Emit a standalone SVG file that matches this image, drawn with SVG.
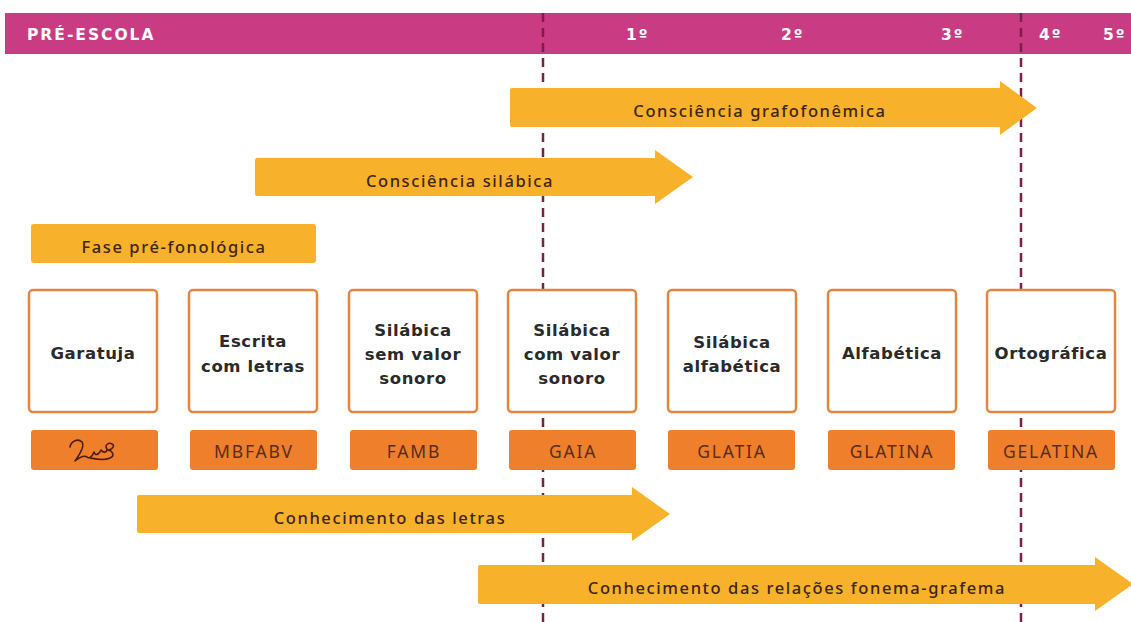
<svg xmlns="http://www.w3.org/2000/svg" width="1131" height="622" viewBox="0 0 1131 622">
<style>
.band{fill:#C93C83}
.yr{font-family:"DejaVu Sans",sans-serif;font-weight:bold;font-size:15.5px;fill:#fff;letter-spacing:2px}
.dash{stroke:#7B2046;stroke-width:2.5;stroke-dasharray:9 6;fill:none}
.arrow{fill:#F8B12A}
.at{font-family:"Noto Sans",sans-serif;font-weight:500;font-size:16.5px;fill:#3E2414;letter-spacing:1.6px;text-anchor:middle}
.box{fill:#fff;stroke:#E9843F;stroke-width:2.5}
.bl{font-family:"DejaVu Sans",sans-serif;font-weight:bold;font-size:16.5px;fill:#2A2A2A;text-anchor:middle;letter-spacing:0.6px}
.bar{fill:#EF7F2B}
.bt{font-family:"Noto Sans",sans-serif;font-size:17.5px;fill:#5A2C17;text-anchor:middle;letter-spacing:1.8px}
</style>
<rect width="1131" height="622" fill="#fff"/>
<g id="header">
<rect class="band" x="5" y="13" width="1126" height="41"/>
<text class="yr" x="27" y="40">PRÉ-ESCOLA</text>
<text class="yr" x="626" y="40">1º</text>
<text class="yr" x="781" y="40">2º</text>
<text class="yr" x="941" y="40">3º</text>
<text class="yr" x="1039" y="40">4º</text>
<text class="yr" x="1103" y="40">5º</text>
</g>
<g id="connectors">
<line class="dash" x1="543" y1="13" x2="543" y2="622"/>
<line class="dash" x1="1021" y1="13" x2="1021" y2="622"/>
</g>
<g id="arrow-grafofonemica">
<path class="arrow" d="M512,88 H1000 V81 L1037,108 L1000,135 V127 H512 Q510,127 510,125 V90 Q510,88 512,88 Z"/>
<text class="at" x="760" y="117">Consciência grafofonêmica</text>
</g>
<g id="arrow-silabica">
<path class="arrow" d="M257,158 H655 V150 L693,177 L655,204 V196 H257 Q255,196 255,194 V160 Q255,158 257,158 Z"/>
<text class="at" x="460" y="187">Consciência silábica</text>
</g>
<g id="fase-pre-fonologica">
<rect class="arrow" x="31" y="224" width="285" height="39" rx="3"/>
<text class="at" x="174" y="253">Fase pré-fonológica</text>
</g>
<g id="garatuja">
<rect class="box" x="29" y="290" width="128" height="122" rx="4"/>
<text class="bl" x="93" y="359">Garatuja</text>
<rect class="bar" x="31" y="430" width="127" height="40" rx="3"/>
<path d="M70,447 C71,441 78,438 82,442 C85,446 80,454 75,461 C80,457 84,455 87,457 C89,459 92,457 94,452 C95,456 99,455 101,450 C103,453 107,453 107,449 C104,445 109,442 112,444 C116,446 111,450 108,450 C113,451 115,456 110,458 C104,461 96,459 90,458" fill="none" stroke="#4A1E0E" stroke-width="1.6" stroke-linecap="round" stroke-linejoin="round"/>
</g>
<g id="escrita-com-letras">
<rect class="box" x="189" y="290" width="128" height="122" rx="4"/>
<text class="bl" x="253" y="347">Escrita</text>
<text class="bl" x="253" y="372">com letras</text>
<rect class="bar" x="190" y="430" width="127" height="40" rx="3"/>
<text class="bt" x="254" y="458">MBFABV</text>
</g>
<g id="silabica-sem-valor">
<rect class="box" x="349" y="290" width="128" height="122" rx="4"/>
<text class="bl" x="413" y="336">Silábica</text>
<text class="bl" x="413" y="360">sem valor</text>
<text class="bl" x="413" y="384">sonoro</text>
<rect class="bar" x="350" y="430" width="127" height="40" rx="3"/>
<text class="bt" x="414" y="458">FAMB</text>
</g>
<g id="silabica-com-valor">
<rect class="box" x="508" y="290" width="128" height="122" rx="4"/>
<text class="bl" x="572" y="336">Silábica</text>
<text class="bl" x="572" y="360">com valor</text>
<text class="bl" x="572" y="384">sonoro</text>
<rect class="bar" x="509" y="430" width="127" height="40" rx="3"/>
<text class="bt" x="573" y="458">GAIA</text>
</g>
<g id="silabica-alfabetica">
<rect class="box" x="668" y="290" width="128" height="122" rx="4"/>
<text class="bl" x="732" y="348">Silábica</text>
<text class="bl" x="732" y="372">alfabética</text>
<rect class="bar" x="668" y="430" width="127" height="40" rx="3"/>
<text class="bt" x="732" y="458">GLATIA</text>
</g>
<g id="alfabetica">
<rect class="box" x="828" y="290" width="128" height="122" rx="4"/>
<text class="bl" x="892" y="359">Alfabética</text>
<rect class="bar" x="828" y="430" width="127" height="40" rx="3"/>
<text class="bt" x="892" y="458">GLATINA</text>
</g>
<g id="ortografica">
<rect class="box" x="987" y="290" width="128" height="122" rx="4"/>
<text class="bl" x="1051" y="359">Ortográfica</text>
<rect class="bar" x="988" y="430" width="127" height="40" rx="3"/>
<text class="bt" x="1051" y="458">GELATINA</text>
</g>
<g id="arrow-letras">
<path class="arrow" d="M139,495 H632 V487 L670,514 L632,541 V533 H139 Q137,533 137,531 V497 Q137,495 139,495 Z"/>
<text class="at" x="390" y="524">Conhecimento das letras</text>
</g>
<g id="arrow-fonema-grafema">
<path class="arrow" d="M480,565 H1095 V557 L1133,584 L1095,611 V604 H480 Q478,604 478,602 V567 Q478,565 480,565 Z"/>
<text class="at" x="797" y="594">Conhecimento das relações fonema-grafema</text>
</g>
</svg>
